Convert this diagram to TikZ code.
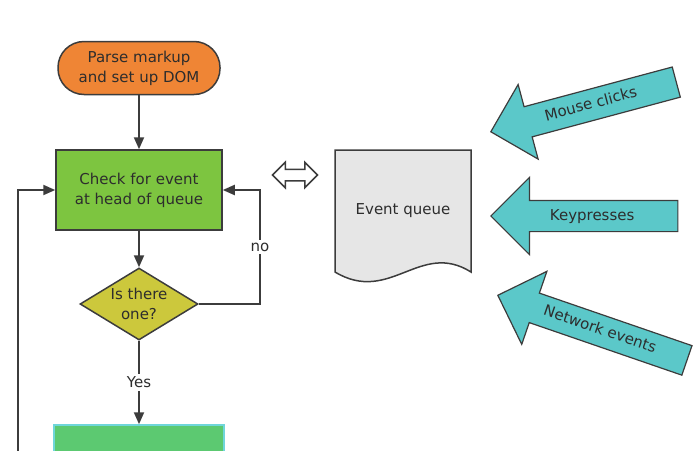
\documentclass[tikz,border=0pt]{standalone}
\usepackage{fontspec}
\setmainfont{DejaVu Sans}
\usepackage{tikz}
\usetikzlibrary{calc, positioning, arrows.meta, shapes.geometric, shapes.arrows}
\usepackage{xcolor}
\definecolor{colLine}{RGB}{60, 60, 60}
\definecolor{colTxt}{RGB}{45, 45, 45}
\definecolor{colParse}{RGB}{239, 133, 53}
\definecolor{colCheck}{RGB}{125, 197, 64}
\definecolor{colTest}{RGB}{204, 200, 60}
\definecolor{colRun}{RGB}{92, 201, 113}
\definecolor{colRunEdge}{RGB}{111, 214, 218}
\definecolor{colQueue}{RGB}{230, 230, 230}
\definecolor{colSource}{RGB}{91, 200, 201}

\begin{document}
\begin{tikzpicture}[
  x=1pt, y=1pt,
  >={Triangle[length=12pt, width=10pt]},
  txt/.style={font=\fontsize{15}{20}\selectfont, text=colTxt, align=center},
  stepbox/.style={txt, draw=colLine, line width=1.5pt, fill=#1,
                  minimum width=166pt, minimum height=80pt, inner sep=0pt},
  flow/.style={->, draw=colLine, line width=2pt},
  lbl/.style={txt, fill=white, inner sep=3pt},
  source/.style={txt, single arrow, shape border rotate=180, draw=colLine,
                 line width=1.2pt, fill=colSource, anchor=tip,
                 single arrow head extend=23pt, text height=11pt,
                 text depth=3pt, inner ysep=8pt, inner xsep=2pt}
]
\clip (0,0) rectangle (700,-450);
\useasboundingbox (0,0) rectangle (700,-450);

% ---------- Boucle principale ----------
\node[txt, draw=colLine, line width=1.5pt, fill=colParse,
      rounded corners=26pt, minimum width=162pt, minimum height=53pt]
  (parse) at (139,-68) {Parse markup\\and set up DOM};
\node[stepbox=colCheck] (check) at (139,-190)
  {Check for event\\at head of queue};
\node[txt, diamond, draw=colLine, line width=1.5pt, fill=colTest,
      aspect=1.64, inner sep=-5pt, minimum width=118pt, minimum height=72pt]
  (test) at (139,-304) {Is there\\one?};
\node[stepbox=colRun, draw=colRunEdge, minimum width=170pt]
  (run) at (139,-465) {};

\draw[flow] (parse) -- (check);
\draw[flow] (check) -- (test);
\draw[flow] (test) -- node[lbl] {Yes} (run);

% retour "no" vers la boite de test
\coordinate (nocorner) at (260,-304);
\draw[flow] (test.east) -- (nocorner)
  -- node[lbl] {no} (nocorner |- check.east) -- (check.east);

% retour depuis le bas (coupe par le cadre)
\coordinate (loopbot) at (18,-470);
\draw[flow] (loopbot) |- (check.west);

% ---------- File d'evenements ----------
\node[double arrow, draw=colLine, line width=1.5pt, fill=white,
      minimum height=45pt, minimum width=24pt, inner sep=5pt,
      double arrow head extend=7pt] (swap) at (295,-175) {};

\draw[draw=colLine, line width=1.5pt, fill=colQueue]
  (335,-150) -- (471,-150) -- (471,-272)
  .. controls (420,-240) and (390,-305) .. (335,-272) -- cycle;
\node[txt] (queue) at (403,-211) {Event queue};

% ---------- Sources d'evenements ----------
\node[source, rotate=15, minimum height=192pt] (mouse) at (490,-132)
  {Mouse clicks};
\node[source, minimum height=187pt] (keys) at (490,-216) {Keypresses};
\node[source, rotate=-19, minimum height=200pt] (net) at (497,-295)
  {Network events};

\end{tikzpicture}
\end{document}
